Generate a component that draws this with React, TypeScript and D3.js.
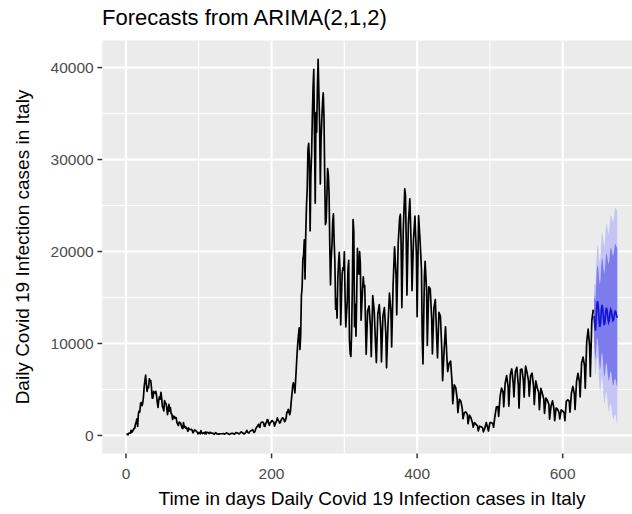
import React from "react";
import * as d3 from "d3";

const chartTitle = "Forecasts from ARIMA(2,1,2)";
const xTitle = "Time in days Daily Covid 19 Infection cases in Italy";
const yTitle = "Daily Covid 19 Infection cases in Italy";
const xTicks = [0, 200, 400, 600];
const yTicks = [0, 10000, 20000, 30000, 40000];

// observed daily cases: [day, cases]
const observed: [number, number][] = [
  [1, 221], [2, 93], [3, 78], [4, 250], [5, 238], [6, 240], [7, 561], [8, 347], [9, 466], [10, 587],
  [11, 769], [12, 778], [13, 1247], [14, 1492], [15, 1797], [16, 977], [17, 2313], [18, 2651], [19, 2547], [20, 3497],
  [21, 3590], [22, 3233], [23, 3526], [24, 4207], [25, 5322], [26, 5986], [27, 6557], [28, 5560], [29, 4789], [30, 5249],
  [31, 5210], [32, 6153], [33, 5959], [34, 5974], [35, 5217], [36, 4050], [37, 4053], [38, 4782], [39, 4668], [40, 4585],
  [41, 4805], [42, 4316], [43, 3599], [44, 3039], [45, 3836], [46, 4204], [47, 3951], [48, 4694], [49, 4092], [50, 3153],
  [51, 2972], [52, 2667], [53, 3786], [54, 3493], [55, 3491], [56, 3047], [57, 2256], [58, 2729], [59, 3370], [60, 2646],
  [61, 3021], [62, 2357], [63, 2324], [64, 1739], [65, 2091], [66, 2086], [67, 1872], [68, 1965], [69, 1900], [70, 1389],
  [71, 1221], [72, 1075], [73, 1444], [74, 1401], [75, 1327], [76, 1083], [77, 802], [78, 744], [79, 1402], [80, 888],
  [81, 992], [82, 789], [83, 875], [84, 675], [85, 451], [86, 813], [87, 665], [88, 642], [89, 652], [90, 669],
  [91, 531], [92, 300], [93, 397], [94, 584], [95, 593], [96, 516], [97, 416], [98, 355], [99, 178], [100, 318],
  [101, 321], [102, 177], [103, 518], [104, 270], [105, 197], [106, 280], [107, 283], [108, 202], [109, 379], [110, 163],
  [111, 346], [112, 338], [113, 301], [114, 210], [115, 329], [116, 333], [117, 251], [118, 262], [119, 224], [120, 218],
  [121, 122], [122, 190], [123, 296], [124, 259], [125, 175], [126, 174], [127, 126], [128, 142],
  [129, 187], [133, 192], [134, 208], [135, 138], [138, 276], [141, 169], [142, 114], [145, 230], [147, 218], [149, 129],
  [151, 306], [153, 275], [155, 170], [156, 181], [158, 386], [159, 379], [160, 295], [162, 159], [163, 190], [165, 402],
  [166, 552], [167, 347], [169, 259], [170, 412], [172, 523], [174, 629], [175, 479], [176, 320], [177, 403], [178, 642],
  [179, 845], [180, 947], [181, 1071], [182, 1210], [183, 953], [184, 878], [185, 1367], [186, 1411], [187, 1462], [188, 1444],
  [189, 1365], [190, 996], [191, 978], [192, 1326], [193, 1397], [194, 1733], [195, 1695], [196, 1297], [197, 1108], [198, 1370],
  [199, 1434], [200, 1597], [201, 1616], [202, 1501], [203, 1458], [204, 1008], [205, 1229], [206, 1452], [207, 1585], [208, 1907],
  [209, 1638], [210, 1587], [211, 1350], [212, 1392], [213, 1640], [214, 1786], [215, 1912], [216, 1869], [217, 1766], [218, 1494],
  [219, 1648], [220, 1851], [221, 2548], [222, 2499], [223, 2844], [224, 2578], [225, 2257], [226, 2677], [227, 3678], [228, 4458],
  [229, 5372], [230, 5724], [231, 5456], [232, 4619], [233, 5901], [234, 7332], [235, 8804], [236, 10010], [237, 10925], [238, 11705],
  [239, 9338], [240, 10874], [241, 15199], [242, 16079], [243, 19143], [244, 19644], [245, 21273], [246, 17012], [247, 21994], [248, 24991],
  [249, 26831], [250, 31084], [251, 31758], [252, 29907], [253, 22253], [254, 28244], [255, 30550], [256, 34505], [257, 37809], [258, 39811],
  [259, 32616], [260, 25271], [261, 35098], [262, 32961], [263, 37978], [264, 40902], [265, 37255], [266, 33979], [267, 27354], [268, 32191],
  [269, 34283], [270, 36176], [271, 37242], [272, 34767], [273, 28337], [274, 22930], [275, 23232], [276, 25853], [277, 29003], [278, 28352],
  [279, 26323], [280, 20648], [281, 16377], [282, 19350], [283, 20709], [284, 23225], [285, 24099], [286, 21052], [287, 18887], [288, 13720],
  [289, 14842], [290, 12756], [291, 16999], [292, 18727], [293, 19903], [294, 17938], [295, 12030], [296, 14844], [297, 17572], [298, 18236],
  [299, 17992], [300, 19974], [301, 15104], [302, 11797], [303, 13318], [304, 14522], [305, 18040], [306, 19037], [307, 10407], [308, 8913],
  [309, 8585], [310, 11212], [311, 16202], [312, 23477], [313, 22211], [314, 11831], [315, 14245], [316, 10800], [317, 15378], [318, 20331],
  [319, 18020], [320, 17533], [321, 19978], [322, 18627], [323, 12532], [324, 14242], [325, 15774], [326, 17246], [327, 16146], [328, 16310],
  [329, 12545], [330, 8824], [332, 13571], [334, 14078], [336, 11629], [337, 8561], [339, 15204], [341, 13574], [343, 9660], [344, 7925],
  [346, 13189], [348, 14218], [350, 11641], [351, 8000], [353, 12956], [355, 13908], [357, 11068], [358, 7351], [360, 12074], [362, 15479],
  [364, 13452], [365, 9630], [367, 16424], [369, 20499], [371, 17455], [372, 13114], [374, 20884], [376, 23641], [377, 24036], [378, 20765],
  [379, 13902], [381, 22409], [383, 26824], [384, 26062], [385, 21315], [386, 15267], [388, 23059], [390, 25735], [392, 20159], [393, 15753],
  [395, 21267], [397, 23839], [399, 19611], [400, 12916], [402, 23904], [404, 21261], [406, 18025], [407, 10680], [408, 7767], [410, 17221],
  [411, 18938], [413, 15746], [414, 9789], [416, 16168], [418, 15943], [420, 12694], [421, 8864], [423, 13844], [425, 14761], [427, 10404],
  [428, 8444], [430, 13385], [432, 12965], [434, 9148], [435, 5948], [437, 9116], [439, 11807], [441, 8292], [442, 6946], [444, 7852],
  [446, 8085], [448, 5753], [449, 3455], [451, 5506], [453, 5218], [455, 3995], [456, 2490], [458, 3937], [460, 3738], [462, 2949],
  [463, 1820], [465, 2483], [467, 2557], [469, 2275], [470, 1273], [472, 2199], [474, 1901], [476, 1390], [477, 907], [479, 1400],
  [481, 1197], [483, 1033], [484, 495], [486, 1007], [488, 951], [490, 818], [491, 389], [493, 776], [495, 1400], [497, 808],
  [498, 480], [500, 1394], [502, 1390], [504, 1272], [505, 888], [507, 2153], [509, 3121], [511, 3127], [512, 2072], [514, 4259],
  [516, 5143], [518, 4743], [519, 3117], [521, 5696], [523, 6513], [525, 5321], [526, 3190], [528, 6596], [530, 7230], [532, 5664],
  [533, 4197], [535, 6968], [537, 7409], [539, 5447], [540, 2974], [542, 7162], [544, 7224], [546, 5923], [547, 4168], [549, 7548],
  [551, 6860], [553, 5959], [554, 4257], [556, 6503], [558, 6761], [560, 5315], [561, 3361], [563, 5923], [565, 5193], [567, 4664],
  [568, 2800], [570, 5117], [572, 4578], [574, 3960], [575, 2407], [577, 4061], [579, 3797], [581, 3377], [582, 1772], [584, 3212],
  [586, 3759], [588, 2900], [589, 1612], [591, 2985], [593, 2845], [595, 2494], [596, 1798], [598, 2772], [600, 2668], [602, 2437],
  [603, 1597], [605, 3702], [607, 3882], [609, 3725], [610, 2535], [612, 4598], [614, 5335], [616, 4526], [617, 2818], [619, 5845],
  [621, 6764], [623, 5822], [624, 4197], [626, 7891], [628, 8516], [630, 7569], [631, 5144], [633, 10172], [635, 11555], [637, 9709],
  [638, 6404], [640, 12448], [642, 13686],
];

// forecast horizon starts the day after the last observation
const fcStart = 643;
const fcMean = [13000, 12000, 11400, 12800, 14300, 14600, 13900, 12600, 11800, 12200, 13600, 14200, 13800, 12800, 12000, 12300, 13400, 13900, 13600, 12800, 12300, 12500, 13300, 13700, 13500, 12900, 12500, 12600, 13200, 13500, 13400, 13000, 12800];
const fcLo80 = [10700, 9100, 8100, 9200, 10500, 10600, 9700, 8200, 7200, 7400, 8650, 9100, 8550, 7400, 6450, 6600, 7600, 7950, 7550, 6600, 6000, 6050, 6750, 7000, 6700, 6000, 5500, 5500, 6000, 6200, 6000, 5500, 5200];
const fcHi80 = [15300, 14900, 14700, 16400, 18100, 18600, 18100, 17000, 16400, 17000, 18550, 19300, 19050, 18200, 17550, 18000, 19200, 19850, 19650, 19000, 18600, 18950, 19850, 20400, 20300, 19800, 19500, 19700, 20400, 20800, 20800, 20500, 20400];
const fcLo95 = [9500, 7600, 6400, 7300, 8500, 8500, 7500, 5900, 4800, 4900, 6000, 6400, 5800, 4500, 3500, 3600, 4500, 4800, 4300, 3300, 2700, 2600, 3300, 3500, 3100, 2300, 1800, 1700, 2200, 2300, 2100, 1500, 1200];
const fcHi95 = [16500, 16400, 16400, 18300, 20100, 20700, 20300, 19300, 18800, 19500, 21200, 22000, 21800, 21100, 20500, 21000, 22300, 23000, 22900, 22300, 21900, 22400, 23300, 23900, 23900, 23500, 23200, 23500, 24200, 24700, 24700, 24500, 24400];

const FONT = "'Liberation Sans', Arial, Helvetica, sans-serif";

export default function App() {
  const W = 632;
  const H = 514;
  const P = { left: 102.2, right: 641.8, top: 40.5, bottom: 453.5 };

  const xMin = d3.min(observed, (d) => d[0]) as number;
  const xMax = fcStart + fcMean.length - 1;
  const xPad = 0.05 * (xMax - xMin);
  const x = d3.scaleLinear().domain([xMin - xPad, xMax + xPad]).range([P.left, P.right]);

  const allY = [...observed.map((d) => d[1]), ...fcLo95, ...fcHi95];
  const yLo = d3.min(allY) as number;
  const yHi = d3.max(allY) as number;
  const yPad = 0.05 * (yHi - yLo);
  const y = d3.scaleLinear().domain([yLo - yPad, yHi + yPad]).range([P.bottom, P.top]);

  const xMinor = xTicks.slice(0, -1).map((t, i) => (t + xTicks[i + 1]) / 2).concat([xTicks[xTicks.length - 1] + (xTicks[1] - xTicks[0]) / 2]);
  const yMinor = yTicks.slice(0, -1).map((t, i) => (t + yTicks[i + 1]) / 2);

  const line = d3.line<[number, number]>().x((d) => x(d[0])).y((d) => y(d[1]));
  const fcLine = d3.line<number>().x((_, i) => x(fcStart + i)).y((d) => y(d));
  const band = (lo: number[], hi: number[]) =>
    d3.area<number>().x((_, i) => x(fcStart + i)).y0((_, i) => y(lo[i])).y1((_, i) => y(hi[i]))(lo) as string;

  const tickLen = 4.75;

  return (
    <div style={{ position: "absolute", left: 0, top: 0 }}>
      <svg width={W} height={H} style={{ display: "block", background: "#ffffff" }} fontFamily={FONT}>
        <defs>
          <clipPath id="panel">
            <rect x={P.left} y={P.top} width={P.right - P.left} height={P.bottom - P.top} />
          </clipPath>
        </defs>
        <rect x={P.left} y={P.top} width={P.right - P.left} height={P.bottom - P.top} fill="#EBEBEB" />
        <g clipPath="url(#panel)">
          {yMinor.map((t) => (
            <line key={"ym" + t} x1={P.left} x2={P.right} y1={y(t)} y2={y(t)} stroke="#fff" strokeWidth={1.1} />
          ))}
          {xMinor.map((t) => (
            <line key={"xm" + t} y1={P.top} y2={P.bottom} x1={x(t)} x2={x(t)} stroke="#fff" strokeWidth={1.1} />
          ))}
          {yTicks.map((t) => (
            <line key={"yM" + t} x1={P.left} x2={P.right} y1={y(t)} y2={y(t)} stroke="#fff" strokeWidth={2.2} />
          ))}
          {xTicks.map((t) => (
            <line key={"xM" + t} y1={P.top} y2={P.bottom} x1={x(t)} x2={x(t)} stroke="#fff" strokeWidth={2.2} />
          ))}
          <path d={line(observed) as string} fill="none" stroke="#000" strokeWidth={1.7} strokeLinejoin="round" />
          <path d={band(fcLo95, fcHi95)} fill="#C4C4F5" />
          <path d={band(fcLo80, fcHi80)} fill="#7C7CEC" />
          <path d={fcLine(fcMean) as string} fill="none" stroke="#1414D2" strokeWidth={1.7} />
        </g>
        {yTicks.map((t) => (
          <g key={"yt" + t}>
            <line x1={P.left - tickLen} x2={P.left} y1={y(t)} y2={y(t)} stroke="#333" strokeWidth={1.5} />
            <text x={P.left - tickLen - 3.8} y={y(t)} dy="0.36em" textAnchor="end" fontSize={15.5} fill="#4D4D4D">
              {String(t)}
            </text>
          </g>
        ))}
        {xTicks.map((t) => (
          <g key={"xt" + t}>
            <line x1={x(t)} x2={x(t)} y1={P.bottom} y2={P.bottom + tickLen} stroke="#333" strokeWidth={1.5} />
            <text x={x(t)} y={479.3} textAnchor="middle" fontSize={15.5} fill="#4D4D4D">
              {String(t)}
            </text>
          </g>
        ))}
        <text x={(P.left + P.right) / 2} y={505} textAnchor="middle" fontSize={19} fill="#000">
          {xTitle}
        </text>
        <text transform={`translate(28.6, ${(P.top + P.bottom) / 2}) rotate(-90)`} textAnchor="middle" fontSize={19} fill="#000">
          {yTitle}
        </text>
        <text x={102} y={25} fontSize={22} fill="#000">
          {chartTitle}
        </text>
      </svg>
    </div>
  );
}
